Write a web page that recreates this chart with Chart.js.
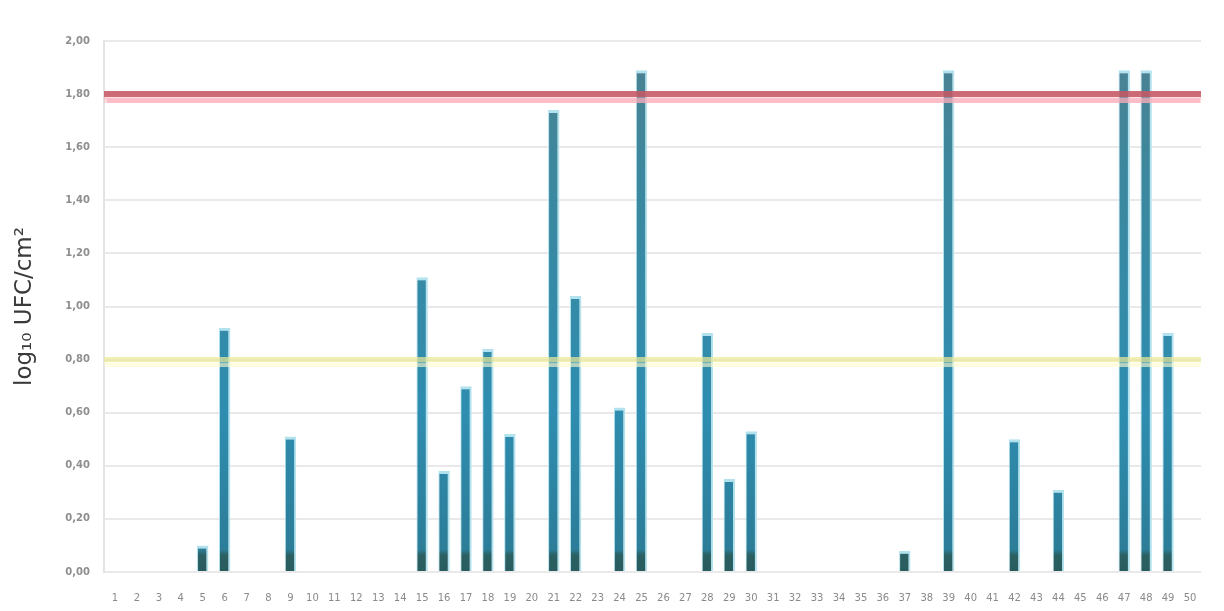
<!DOCTYPE html>
<html>
<head>
<meta charset="utf-8">
<script src="https://cdn.jsdelivr.net/npm/chart.js@4.4.1/dist/chart.umd.min.js"></script>
<style>
  html, body { margin: 0; padding: 0; background: #ffffff; }
  canvas { display: block; }
</style>
</head>
<body>
<canvas id="chart" width="1224" height="611"></canvas>
<script>
// Sample numbers along the x axis
const samples = ['1','2','3','4','5','6','7','8','9','10',
                 '11','12','13','14','15','16','17','18','19','20',
                 '21','22','23','24','25','26','27','28','29','30',
                 '31','32','33','34','35','36','37','38','39','40',
                 '41','42','43','44','45','46','47','48','49','50'];

// log10 UFC/cm² per sample (null = no count)
const logCounts = [null, null, null, null, 0.10, 0.92, null, null, 0.51, null,
                   null, null, null, null, 1.11, 0.38, 0.70, 0.84, 0.52, null,
                   1.74, 1.04, null, 0.62, 1.89, null, null, 0.90, 0.35, 0.53,
                   null, null, null, null, null, null, 0.08, null, 1.89, null,
                   null, 0.50, null, 0.31, null, null, 1.89, 1.89, 0.90, null];

// Reference limits
const upperLimit = 1.8;
const lowerLimit = 0.8;

// Y axis range
const yMin = 0, yMax = 2, yStep = 0.2;

// Horizontal limit lines drawn across the plot from the y scale
const limitLines = {
  id: 'limitLines',
  afterDatasetsDraw(chart) {
    const { ctx, chartArea, scales } = chart;
    const draw = (value, color, glow, width, drop) => {
      const y = scales.y.getPixelForValue(value);
      ctx.save();
      ctx.lineWidth = width;
      ctx.shadowColor = glow;
      ctx.shadowOffsetY = drop;
      ctx.shadowBlur = 1;
      ctx.strokeStyle = color;
      ctx.beginPath();
      ctx.moveTo(chartArea.left, y);
      ctx.lineTo(chartArea.right, y);
      ctx.stroke();
      ctx.restore();
    };
    draw(upperLimit, 'rgba(198,88,100,0.88)', 'rgba(250,172,186,0.9)', 6, 6);
    draw(lowerLimit, 'rgba(236,232,150,0.7)', 'rgba(255,251,205,0.9)', 5, 5);
  }
};

// Vertical shading of the bars: slate top, blue middle, dark teal foot
function barFill(context) {
  const { chart } = context;
  const area = chart.chartArea;
  if (!area) return '#2f8aa8';
  const h = area.bottom - area.top;
  const foot = 1 - 17 / h;
  const g = chart.ctx.createLinearGradient(0, area.top, 0, area.bottom);
  g.addColorStop(0.00, '#4d8091');
  g.addColorStop(0.25, '#3c889e');
  g.addColorStop(0.70, '#2e8db0');
  g.addColorStop(foot - 0.01, '#2c7d98');
  g.addColorStop(foot, '#2b6163');
  g.addColorStop(1.00, '#285b5d');
  return g;
}

new Chart(document.getElementById('chart'), {
  type: 'bar',
  data: {
    labels: samples,
    datasets: [{
      data: logCounts,
      backgroundColor: barFill,
      borderColor: '#b2e2ee',
      borderWidth: { left: 1, right: 2, top: 3, bottom: 0 },
      borderSkipped: false,
      barPercentage: 0.52,
      categoryPercentage: 1.0
    }]
  },
  options: {
    responsive: false,
    animation: false,
    events: [],
    layout: { padding: { left: 8, right: 23, top: 41, bottom: 6 } },
    plugins: {
      legend: { display: false },
      tooltip: { enabled: false }
    },
    scales: {
      x: {
        grid: { display: false, drawTicks: false },
        border: { display: false },
        ticks: {
          autoSkip: false,
          maxRotation: 0,
          padding: 20,
          color: '#8a8a8a',
          font: { family: 'DejaVu Sans', size: 10 }
        },
        afterFit(scale) { scale.height = 33; }
      },
      y: {
        min: yMin,
        max: yMax,
        grid: { color: '#e9e9e9', lineWidth: 2, drawTicks: false },
        border: { display: true, color: '#e3e3e3', width: 2 },
        ticks: {
          stepSize: yStep,
          padding: 14,
          color: '#8e8e8e',
          font: { family: 'DejaVu Sans', size: 10, weight: 'bold' },
          callback: v => v.toFixed(2).replace('.', ',')
        },
        title: {
          display: true,
          text: 'log₁₀ UFC/cm²',
          color: '#3a3a3a',
          padding: { top: 3, bottom: 0 },
          font: { family: 'DejaVu Sans', size: 23 }
        },
        afterFit(scale) { scale.width = 96; }
      }
    }
  },
  plugins: [limitLines]
});
</script>
</body>
</html>
